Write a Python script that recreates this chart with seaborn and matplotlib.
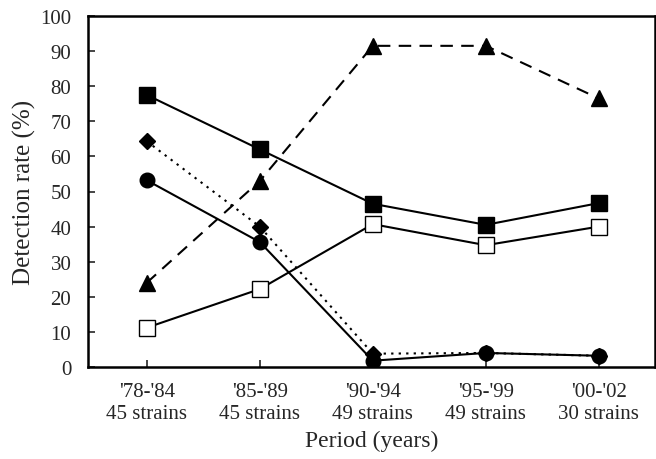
import numpy as np
import pandas as pd
import matplotlib
matplotlib.use("Agg")
import matplotlib.pyplot as plt
import seaborn as sns

# data
periods = ["'78-'84\n45 strains", "'85-'89\n45 strains", "'90-'94\n49 strains",
           "'95-'99\n49 strains", "'00-'02\n30 strains"]
filled_square = [77.5, 62, 46.5, 40.5, 46.7]
open_square = [11.2, 22.2, 40.7, 34.7, 40]
triangle = [24, 53, 91.5, 91.5, 76.5]
diamond = [64.3, 40, 3.8, 4, 3.2]
circle = [53.2, 35.6, 1.8, 4, 3.2]

sns.set_style("ticks")
plt.rcParams['font.family'] = ['Liberation Serif', 'DejaVu Serif']

fig = plt.figure(figsize=(6.56, 4.6), dpi=100)
ax = fig.add_axes([88 / 656, 92 / 460, 1 - 88 / 656 - 0.001, (368 - 17) / 460])

x = np.arange(len(periods))
styles = [
    (filled_square, 's', 'black', '-', 11),
    (open_square, 's', 'white', '-', 11),
    (triangle, '^', 'black', (0, (6, 4)), 11.5),
    (diamond, 'D', 'black', (0, (1.1, 2.5)), 8.5),
    (circle, 'o', 'black', '-', 10.5),
]
for vals, mk, fc, ls, ms in styles:
    df = pd.DataFrame({'x': x, 'y': vals})
    sns.lineplot(data=df, x='x', y='y', ax=ax, color='black', linestyle=ls,
                 linewidth=1.5, marker=mk, markersize=ms,
                 markerfacecolor=fc, markeredgecolor='black', markeredgewidth=1.0)

ax.set_xlim(-0.52, 4.5)
ax.set_ylim(0, 100)
ax.set_yticks(range(0, 101, 10))
ax.set_xticks(x)
ax.set_xticklabels(periods, fontsize=15)
ax.tick_params(axis='y', labelsize=15, direction='in', length=5, width=1.2, pad=12)
ax.tick_params(axis='x', direction='in', length=5, width=1.2, pad=11)
ax.set_xlabel('Period (years)', fontsize=17, labelpad=5)
ax.set_ylabel('Detection rate (%)', fontsize=18, labelpad=3)
for s in ax.spines.values():
    s.set_linewidth(1.8)
    s.set_color('black')

fig.savefig('out.png', dpi=100)
